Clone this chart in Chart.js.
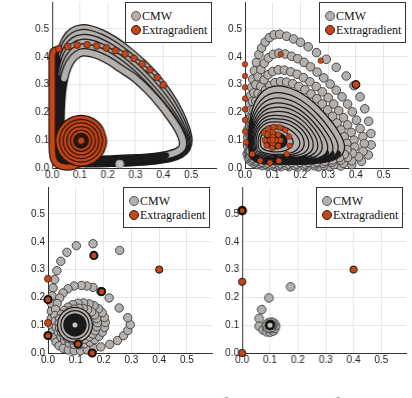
<!DOCTYPE html>
<html>
<head>
<meta charset="utf-8">
<title>CMW vs Extragradient</title>
<script src="https://cdn.jsdelivr.net/npm/chart.js@4.4.1/dist/chart.umd.min.js"></script>
<style>
  html, body { margin: 0; padding: 0; background: #fff; }
  body { position: relative; width: 412px; height: 398px; overflow: hidden; }
  canvas { position: absolute; }
  .legend { position: absolute; z-index: 2; width: 87px; height: 41px; box-sizing: border-box;
            border: 1px solid #333; background: #fff; color: #111;
            font-family: "Liberation Serif", serif; font-size: 12px; }
  .legend div { position: absolute; left: 16px; height: 14px; line-height: 14px; white-space: nowrap; }
  .legend span { position: absolute; left: -11px; top: 2px; width: 8px; height: 8px; border-radius: 50%; }
  .caption { position: absolute; left: 26px; top: 393.5px; white-space: nowrap; color: #999;
             font-family: "Liberation Serif", serif; font-size: 23px; line-height: 23px; word-spacing: 6px; }
</style>
</head>
<body>
<div class="caption">Figure 2: CMW and RRK predictions of the</div>
<script>
// shared axis setup
const tickLabels = ['0.0', '0.1', '0.2', '0.3', '0.4', '0.5'];
const xMax = 0.59, yMax = 0.597;

// ---- top left panel ----
const tlCmw1 = [[0.02,0.03],[0.014,0.08],[0.013,0.15],[0.014,0.22],[0.017,0.29],[0.022,0.36],[0.032,0.42],[0.05,0.465],[0.075,0.492],[0.105,0.502],[0.14,0.498],[0.18,0.483],[0.225,0.458],[0.275,0.421],[0.325,0.377],[0.375,0.325],[0.42,0.265],[0.456,0.203],[0.48,0.145],[0.49,0.102],[0.483,0.07],[0.462,0.05],[0.425,0.036],[0.365,0.027],[0.295,0.022],[0.225,0.019],[0.155,0.017],[0.095,0.018],[0.05,0.021],[0.027,0.026],[0.02,0.03]];
const tlCmw2 = [[0.023,0.032],[0.017,0.08],[0.016,0.15],[0.017,0.22],[0.02,0.29],[0.026,0.355],[0.036,0.41],[0.053,0.45],[0.077,0.475],[0.106,0.485],[0.14,0.481],[0.178,0.467],[0.221,0.443],[0.269,0.408],[0.318,0.365],[0.367,0.314],[0.412,0.257],[0.449,0.197],[0.474,0.142],[0.486,0.101],[0.48,0.07],[0.459,0.051],[0.422,0.038],[0.362,0.029],[0.292,0.024],[0.222,0.021],[0.153,0.02],[0.094,0.021],[0.051,0.024],[0.029,0.028],[0.023,0.032]];
const tlCmw3 = [[0.026,0.034],[0.02,0.08],[0.019,0.15],[0.02,0.22],[0.023,0.285],[0.03,0.345],[0.041,0.397],[0.057,0.435],[0.08,0.458],[0.107,0.467],[0.14,0.464],[0.176,0.451],[0.217,0.428],[0.263,0.395],[0.311,0.353],[0.359,0.303],[0.404,0.248],[0.442,0.19],[0.468,0.138],[0.482,0.1],[0.477,0.071],[0.456,0.053],[0.419,0.04],[0.359,0.031],[0.289,0.026],[0.219,0.023],[0.151,0.022],[0.093,0.023],[0.052,0.026],[0.031,0.03],[0.026,0.034]];
const tlCmw4 = [[0.029,0.036],[0.023,0.08],[0.022,0.15],[0.023,0.215],[0.027,0.28],[0.034,0.337],[0.045,0.385],[0.061,0.42],[0.083,0.441],[0.108,0.45],[0.14,0.447],[0.174,0.435],[0.213,0.413],[0.257,0.382],[0.304,0.341],[0.351,0.292],[0.396,0.239],[0.435,0.184],[0.463,0.135],[0.478,0.099],[0.474,0.072],[0.453,0.055],[0.416,0.042],[0.356,0.033],[0.286,0.028],[0.216,0.025],[0.149,0.024],[0.092,0.025],[0.053,0.028],[0.034,0.032],[0.029,0.036]];
const tlCmw5 = [[0.032,0.038],[0.027,0.085],[0.026,0.15],[0.027,0.215],[0.031,0.275],[0.039,0.33],[0.05,0.373],[0.066,0.405],[0.087,0.425],[0.109,0.433],[0.139,0.43],[0.172,0.419],[0.21,0.399],[0.253,0.369],[0.299,0.33],[0.346,0.282],[0.391,0.23],[0.431,0.178],[0.46,0.131],[0.474,0.098],[0.471,0.073],[0.451,0.057],[0.413,0.044],[0.353,0.036],[0.283,0.031],[0.213,0.028],[0.147,0.027],[0.091,0.028],[0.054,0.031],[0.037,0.034],[0.032,0.038]];
const tlCmw6 = [[0.035,0.04],[0.03,0.09],[0.03,0.15],[0.031,0.21],[0.035,0.27],[0.043,0.322],[0.055,0.362],[0.071,0.39],[0.09,0.408],[0.11,0.416],[0.138,0.413],[0.17,0.403],[0.207,0.384],[0.249,0.356],[0.295,0.325],[0.342,0.282],[0.387,0.232],[0.428,0.178],[0.457,0.132],[0.47,0.097],[0.468,0.074],[0.449,0.058],[0.41,0.046],[0.35,0.038],[0.28,0.034],[0.21,0.031],[0.145,0.03],[0.09,0.031],[0.055,0.034],[0.04,0.037],[0.035,0.04]];
const tlCmwStart = [[0.243,0.014]];
const tlEgEdge = [[0.024,0.428],[0.005,0.42],[0.0,0.39],[0.0,0.33],[0.0,0.26],[0.0,0.19],[0.0,0.12],[0.001,0.06],[0.006,0.03],[0.02,0.012],[0.045,0.004],[0.075,0.006],[0.104,0.018]];
const tlEgRing1 = [[0.184,0.098],[0.173,0.138],[0.144,0.167],[0.104,0.178],[0.064,0.167],[0.035,0.138],[0.024,0.098],[0.035,0.058],[0.064,0.029],[0.104,0.018],[0.144,0.029],[0.173,0.058],[0.184,0.098],[0.173,0.138]];
const tlEgRing2 = [[0.17,0.098],[0.161,0.131],[0.137,0.155],[0.104,0.164],[0.071,0.155],[0.047,0.131],[0.038,0.098],[0.047,0.065],[0.071,0.041],[0.104,0.032],[0.137,0.041],[0.161,0.065],[0.17,0.098],[0.161,0.131]];
const tlEgRing3 = [[0.157,0.098],[0.15,0.125],[0.131,0.144],[0.104,0.151],[0.077,0.144],[0.058,0.125],[0.051,0.098],[0.058,0.071],[0.077,0.052],[0.104,0.045],[0.131,0.052],[0.15,0.071],[0.157,0.098],[0.15,0.125]];
const tlEgRing4 = [[0.144,0.098],[0.139,0.118],[0.124,0.133],[0.104,0.138],[0.084,0.133],[0.069,0.118],[0.064,0.098],[0.069,0.078],[0.084,0.063],[0.104,0.058],[0.124,0.063],[0.139,0.078],[0.144,0.098],[0.139,0.118]];
const tlEgRing5 = [[0.131,0.098],[0.127,0.112],[0.118,0.121],[0.104,0.125],[0.09,0.121],[0.081,0.112],[0.077,0.098],[0.081,0.084],[0.09,0.075],[0.104,0.071],[0.118,0.075],[0.127,0.084],[0.131,0.098],[0.127,0.112]];
const tlEgRing6 = [[0.119,0.098],[0.117,0.106],[0.111,0.111],[0.104,0.113],[0.097,0.111],[0.091,0.106],[0.089,0.098],[0.091,0.09],[0.097,0.085],[0.104,0.083],[0.111,0.085],[0.117,0.09],[0.119,0.098],[0.117,0.106]];
const tlEgTop = [[0.4,0.299],[0.378,0.326],[0.351,0.353],[0.324,0.374],[0.294,0.394],[0.262,0.41],[0.228,0.422],[0.195,0.432],[0.16,0.439],[0.126,0.443],[0.09,0.442],[0.056,0.437],[0.024,0.428]];
const tlEgCentre = [[0.104,0.098]];

// ---- top right panel ----
const trCmwA = [[0.008,0.05],[0.009,0.08],[0.01,0.11],[0.011,0.14],[0.013,0.17],[0.015,0.2],[0.017,0.23],[0.02,0.26],[0.024,0.29],[0.028,0.32],[0.034,0.35],[0.041,0.38],[0.05,0.408],[0.06,0.432],[0.073,0.453],[0.088,0.469],[0.105,0.479],[0.125,0.481],[0.15,0.474],[0.175,0.464],[0.2,0.452],[0.228,0.436],[0.258,0.415],[0.293,0.391],[0.329,0.362],[0.365,0.331],[0.393,0.296],[0.415,0.256],[0.432,0.213],[0.446,0.168],[0.454,0.124],[0.455,0.083],[0.445,0.047],[0.42,0.024],[0.385,0.012],[0.345,0.007],[0.305,0.005],[0.265,0.004],[0.225,0.004],[0.19,0.004],[0.158,0.005],[0.13,0.005],[0.105,0.006],[0.082,0.007],[0.062,0.009],[0.045,0.012],[0.031,0.017],[0.02,0.025],[0.012,0.036]];
const trCmwB = [[0.012,0.06],[0.013,0.09],[0.015,0.12],[0.017,0.15],[0.02,0.18],[0.023,0.21],[0.027,0.24],[0.032,0.27],[0.039,0.3],[0.047,0.328],[0.057,0.354],[0.069,0.377],[0.084,0.396],[0.102,0.409],[0.122,0.413],[0.145,0.41],[0.168,0.402],[0.19,0.393],[0.213,0.38],[0.236,0.364],[0.26,0.345],[0.284,0.324],[0.307,0.302],[0.329,0.28],[0.35,0.256],[0.37,0.23],[0.387,0.202],[0.402,0.172],[0.415,0.142],[0.425,0.113],[0.43,0.087],[0.426,0.06],[0.41,0.04],[0.385,0.026],[0.355,0.017],[0.32,0.012],[0.285,0.009],[0.25,0.008],[0.215,0.008],[0.18,0.008],[0.15,0.009],[0.122,0.01],[0.097,0.011],[0.075,0.013],[0.055,0.016],[0.039,0.021],[0.026,0.029],[0.017,0.04]];
const trCmwC = [[0.016,0.06],[0.018,0.09],[0.02,0.12],[0.023,0.15],[0.027,0.18],[0.032,0.21],[0.039,0.24],[0.047,0.268],[0.057,0.294],[0.069,0.317],[0.083,0.335],[0.1,0.347],[0.12,0.353],[0.142,0.352],[0.165,0.346],[0.188,0.337],[0.211,0.325],[0.234,0.31],[0.257,0.293],[0.279,0.274],[0.3,0.253],[0.32,0.23],[0.338,0.206],[0.355,0.181],[0.37,0.155],[0.383,0.128],[0.393,0.1],[0.396,0.075],[0.388,0.053],[0.37,0.038],[0.345,0.028],[0.315,0.021],[0.283,0.017],[0.25,0.015],[0.218,0.014],[0.186,0.014],[0.156,0.014],[0.128,0.015],[0.103,0.016],[0.08,0.018],[0.06,0.021],[0.043,0.026],[0.03,0.034],[0.021,0.045]];
const trCmwD = [[0.02,0.06],[0.022,0.09],[0.025,0.12],[0.029,0.15],[0.034,0.18],[0.041,0.208],[0.05,0.235],[0.061,0.259],[0.074,0.28],[0.09,0.296],[0.108,0.307],[0.128,0.311],[0.15,0.309],[0.172,0.303],[0.194,0.293],[0.216,0.281],[0.238,0.266],[0.259,0.249],[0.279,0.23],[0.298,0.209],[0.316,0.186],[0.332,0.162],[0.346,0.137],[0.358,0.112],[0.367,0.088],[0.368,0.066],[0.358,0.049],[0.34,0.037],[0.316,0.029],[0.288,0.024],[0.258,0.021],[0.228,0.02],[0.198,0.02],[0.168,0.02],[0.14,0.021],[0.114,0.022],[0.09,0.024],[0.069,0.027],[0.051,0.031],[0.037,0.038],[0.027,0.047]];
const trCmwE = [[0.03,0.045],[0.025,0.09],[0.027,0.14],[0.035,0.19],[0.05,0.235],[0.075,0.268],[0.105,0.281],[0.14,0.28],[0.18,0.266],[0.225,0.238],[0.27,0.196],[0.31,0.148],[0.337,0.105],[0.346,0.075],[0.335,0.052],[0.3,0.036],[0.24,0.028],[0.17,0.026],[0.1,0.027],[0.055,0.031],[0.03,0.045]];
const trCmwF = [[0.033,0.048],[0.028,0.09],[0.03,0.135],[0.038,0.18],[0.054,0.218],[0.078,0.245],[0.107,0.257],[0.14,0.256],[0.177,0.243],[0.218,0.216],[0.258,0.178],[0.293,0.135],[0.316,0.098],[0.323,0.072],[0.312,0.053],[0.28,0.039],[0.225,0.031],[0.16,0.029],[0.1,0.03],[0.058,0.034],[0.033,0.048]];
const trCmwG = [[0.036,0.05],[0.031,0.09],[0.033,0.13],[0.041,0.17],[0.057,0.205],[0.08,0.228],[0.108,0.238],[0.14,0.237],[0.175,0.225],[0.212,0.2],[0.248,0.165],[0.279,0.126],[0.299,0.093],[0.304,0.07],[0.293,0.054],[0.263,0.042],[0.212,0.035],[0.155,0.032],[0.1,0.033],[0.061,0.037],[0.036,0.05]];
const trCmwH = [[0.039,0.053],[0.034,0.09],[0.036,0.127],[0.044,0.162],[0.06,0.192],[0.082,0.212],[0.109,0.22],[0.14,0.219],[0.173,0.208],[0.207,0.186],[0.239,0.154],[0.266,0.119],[0.282,0.09],[0.285,0.069],[0.274,0.055],[0.247,0.045],[0.2,0.038],[0.15,0.035],[0.1,0.036],[0.064,0.04],[0.039,0.053]];
const trCmwI = [[0.042,0.056],[0.037,0.09],[0.039,0.124],[0.047,0.155],[0.063,0.182],[0.084,0.199],[0.11,0.205],[0.14,0.204],[0.171,0.194],[0.202,0.174],[0.231,0.145],[0.253,0.114],[0.264,0.088],[0.265,0.07],[0.255,0.057],[0.231,0.048],[0.19,0.042],[0.145,0.039],[0.1,0.04],[0.067,0.044],[0.042,0.056]];
const trCmwJ = [[0.045,0.059],[0.04,0.09],[0.042,0.121],[0.05,0.149],[0.066,0.173],[0.086,0.186],[0.111,0.19],[0.14,0.189],[0.168,0.18],[0.197,0.162],[0.223,0.136],[0.241,0.109],[0.249,0.087],[0.248,0.071],[0.238,0.06],[0.216,0.051],[0.18,0.046],[0.14,0.043],[0.1,0.044],[0.07,0.048],[0.045,0.059]];
const trCmwK = [[0.048,0.062],[0.044,0.09],[0.046,0.118],[0.054,0.143],[0.069,0.163],[0.088,0.174],[0.112,0.176],[0.139,0.174],[0.165,0.166],[0.191,0.15],[0.214,0.127],[0.228,0.104],[0.233,0.085],[0.231,0.072],[0.221,0.062],[0.201,0.055],[0.17,0.05],[0.135,0.047],[0.1,0.048],[0.072,0.052],[0.048,0.062]];
const trCmwL = [[0.052,0.066],[0.048,0.09],[0.05,0.115],[0.058,0.137],[0.072,0.154],[0.09,0.163],[0.113,0.164],[0.138,0.162],[0.162,0.154],[0.185,0.139],[0.204,0.119],[0.215,0.099],[0.217,0.083],[0.213,0.072],[0.203,0.064],[0.185,0.058],[0.158,0.054],[0.128,0.052],[0.1,0.053],[0.075,0.056],[0.052,0.066]];
const trCmwM = [[0.056,0.07],[0.053,0.09],[0.055,0.112],[0.062,0.131],[0.075,0.145],[0.093,0.152],[0.114,0.153],[0.137,0.15],[0.159,0.142],[0.179,0.128],[0.194,0.111],[0.2,0.094],[0.199,0.08],[0.19,0.07],[0.175,0.063],[0.152,0.059],[0.125,0.057],[0.1,0.058],[0.078,0.061],[0.056,0.07]];
const trCmwN = [[0.062,0.075],[0.06,0.095],[0.064,0.115],[0.076,0.131],[0.095,0.14],[0.118,0.14],[0.14,0.134],[0.162,0.122],[0.178,0.106],[0.185,0.09],[0.18,0.077],[0.165,0.068],[0.14,0.063],[0.113,0.062],[0.088,0.064],[0.07,0.068],[0.062,0.075]];
const trCmwO = [[0.07,0.082],[0.068,0.1],[0.074,0.116],[0.09,0.126],[0.11,0.128],[0.132,0.122],[0.15,0.11],[0.16,0.095],[0.155,0.082],[0.138,0.074],[0.115,0.071],[0.092,0.073],[0.077,0.077],[0.07,0.082]];
const trCmwP = [[0.082,0.09],[0.082,0.104],[0.092,0.114],[0.11,0.116],[0.128,0.11],[0.138,0.098],[0.132,0.087],[0.115,0.082],[0.096,0.083],[0.082,0.09]];
const trEgStart = [[0.4,0.3]];
const trEg = [[0.273,0.386],[0.129,0.409],[0.0,0.373],[0.0,0.331],[0.0,0.29],[0.0,0.25],[0.0,0.211],[0.0,0.173],[0.0,0.131],[0.003,0.092],[0.026,0.05],[0.055,0.026],[0.09,0.019],[0.122,0.026],[0.151,0.05],[0.161,0.08],[0.158,0.113],[0.145,0.136],[0.125,0.146],[0.103,0.147],[0.083,0.141],[0.068,0.126],[0.071,0.1],[0.078,0.081],[0.098,0.072],[0.12,0.079],[0.128,0.1],[0.12,0.12],[0.1,0.128],[0.081,0.12],[0.09,0.1],[0.1,0.089],[0.111,0.1],[0.1,0.111],[0.1,0.1]];

// ---- bottom left panel ----
const blCmw = [[0.258,0.369],[0.162,0.393],[0.102,0.386],[0.068,0.362],[0.046,0.33],[0.032,0.296],[0.024,0.264],[0.018,0.234],[0.015,0.205],[0.013,0.177],[0.012,0.15],[0.012,0.124],[0.013,0.099],[0.016,0.076],[0.021,0.056],[0.029,0.039],[0.04,0.026],[0.055,0.017],[0.073,0.011],[0.094,0.008],[0.117,0.008],[0.141,0.011],[0.165,0.016],[0.19,0.022],[0.222,0.031],[0.25,0.045],[0.272,0.062],[0.287,0.081],[0.296,0.102],[0.287,0.127],[0.256,0.162],[0.22,0.198],[0.19,0.221],[0.162,0.236],[0.14,0.241],[0.12,0.243],[0.094,0.241],[0.072,0.231],[0.054,0.216],[0.042,0.198],[0.033,0.178],[0.027,0.157],[0.025,0.135],[0.026,0.114],[0.03,0.093],[0.037,0.074],[0.047,0.058],[0.06,0.045],[0.076,0.036],[0.094,0.031],[0.113,0.03],[0.132,0.033],[0.151,0.039],[0.168,0.048],[0.183,0.06],[0.195,0.075],[0.203,0.092],[0.206,0.11],[0.203,0.128],[0.195,0.145],[0.182,0.159],[0.166,0.17],[0.148,0.177],[0.128,0.18],[0.108,0.179],[0.089,0.174],[0.072,0.165],[0.058,0.153],[0.048,0.139],[0.042,0.123],[0.04,0.106],[0.042,0.09],[0.048,0.075],[0.058,0.062],[0.071,0.053],[0.086,0.047],[0.102,0.045],[0.118,0.046],[0.134,0.05],[0.149,0.058],[0.161,0.068],[0.17,0.08],[0.176,0.094],[0.178,0.109],[0.175,0.124],[0.168,0.137],[0.157,0.148],[0.143,0.156],[0.127,0.16],[0.111,0.161],[0.095,0.158],[0.081,0.152],[0.069,0.143],[0.061,0.131],[0.056,0.117],[0.056,0.103],[0.059,0.089]];
const blRing1 = [[0.147,0.101],[0.14,0.126],[0.122,0.144],[0.097,0.151],[0.072,0.144],[0.054,0.126],[0.047,0.101],[0.054,0.076],[0.072,0.058],[0.097,0.051],[0.122,0.058],[0.14,0.076],[0.147,0.101],[0.14,0.126]];
const blRing2 = [[0.135,0.101],[0.13,0.12],[0.116,0.134],[0.097,0.139],[0.078,0.134],[0.064,0.12],[0.059,0.101],[0.064,0.082],[0.078,0.068],[0.097,0.063],[0.116,0.068],[0.13,0.082],[0.135,0.101],[0.13,0.12]];
const blRing3 = [[0.124,0.101],[0.12,0.115],[0.11,0.124],[0.097,0.128],[0.084,0.124],[0.074,0.115],[0.07,0.101],[0.074,0.087],[0.084,0.078],[0.097,0.074],[0.11,0.078],[0.12,0.087],[0.124,0.101],[0.12,0.115]];
const blRing4 = [[0.113,0.101],[0.111,0.109],[0.105,0.115],[0.097,0.117],[0.089,0.115],[0.083,0.109],[0.081,0.101],[0.083,0.093],[0.089,0.087],[0.097,0.085],[0.105,0.087],[0.111,0.093],[0.113,0.101],[0.111,0.109]];
const blCmwEnd = [[0.097,0.101]];
const blEg = [[0.4,0.3],[0.165,0.351],[0.193,0.221],[0.0,0.267],[0.0,0.192],[0.0,0.108],[0.0,0.063],[0.108,0.032],[0.159,0.0]];
const blEgEdgeWidth = [1, 2, 2, 0.6, 2, 0.6, 2, 2, 2];

// ---- bottom right panel ----
const brCmw = [[0.174,0.238],[0.096,0.198],[0.07,0.156],[0.061,0.124],[0.061,0.096],[0.075,0.083],[0.088,0.076],[0.1,0.075],[0.112,0.079],[0.118,0.088],[0.12,0.098],[0.115,0.107],[0.107,0.111],[0.097,0.11],[0.089,0.104],[0.087,0.096],[0.092,0.089],[0.1,0.088],[0.107,0.092],[0.108,0.1],[0.102,0.103]];
const brCmwEnd = [[0.1,0.1]];
const brEg = [[0.4,0.3],[0.0,0.512],[0.0,0.256],[0.0,0.0]];
const brEgEdgeWidth = [1, 2.4, 1, 1];

// colours
const cmwFill = '#b4b0ad', cmwEdge = '#3a3a3a', cmwDark = '#1a1a1a';
const egFill = '#c4461a', egEdge = '#3a1d0e', egDark = '#2c1408';

const xy = pts => pts.map(p => ({ x: p[0], y: p[1] }));

function dots(pts, fill, edge, r, bw) {
  return { data: xy(pts), showLine: false, pointRadius: r, pointBackgroundColor: fill,
           pointBorderColor: edge, pointBorderWidth: bw, clip: false };
}

// dense parts of a loop (left side, bottom) read as solid black in the picture
const dense = p => p[0] < 0.045 || p[1] < 0.055;

function band(pts, dark, light, wide, thin, shade) {
  const base = { showLine: true, pointRadius: 0, tension: 0.35, fill: false, clip: false,
                 borderCapStyle: 'round', borderJoinStyle: 'round' };
  const top = { ...base, data: xy(pts), borderColor: light, borderWidth: thin };
  if (shade) {
    top.segment = { borderColor: c => (dense(pts[c.p0DataIndex]) && dense(pts[c.p1DataIndex])) ? dark : light };
  }
  return [{ ...base, data: xy(pts), borderColor: dark, borderWidth: wide }, top];
}

// first entry is drawn at the bottom
function stack(list) {
  return list.map((d, i) => ({ ...d, order: list.length - i }));
}

function buildTL() {
  return stack([
    ...band(tlCmw1, cmwDark, cmwFill, 8.5, 6, true),
    ...band(tlCmw2, cmwDark, cmwFill, 8.5, 6, true),
    ...band(tlCmw3, cmwDark, cmwFill, 8.5, 6, true),
    ...band(tlCmw4, cmwDark, cmwFill, 8.5, 6, true),
    ...band(tlCmw5, cmwDark, cmwFill, 8.5, 6, true),
    ...band(tlCmw6, cmwDark, cmwFill, 8.5, 6, true),
    dots(tlCmwStart, '#c2c0be', '#9a9a9a', 4, 0.8),
    ...band(tlEgEdge, egDark, egFill, 7.5, 5, false),
    ...band(tlEgRing1, egDark, egFill, 7.5, 5, false),
    ...band(tlEgRing2, egDark, egFill, 7.5, 5, false),
    ...band(tlEgRing3, egDark, egFill, 7.5, 5, false),
    ...band(tlEgRing4, egDark, egFill, 7.5, 5, false),
    ...band(tlEgRing5, egDark, egFill, 7.5, 5, false),
    ...band(tlEgRing6, egDark, egDark, 7.5, 5, false),
    dots(tlEgTop, egFill, egEdge, 3.4, 0.8),
    dots(tlEgCentre, egFill, egEdge, 3.4, 0.8)
  ]);
}

function buildTR() {
  return stack([
    dots(trCmwA, cmwFill, cmwEdge, 4.3, 0.9),
    dots(trCmwB, cmwFill, cmwEdge, 4.3, 0.9),
    dots(trCmwC, cmwFill, cmwEdge, 4.3, 0.9),
    dots(trCmwD, cmwFill, cmwEdge, 4.3, 0.9),
    ...band(trCmwE, cmwDark, cmwFill, 8.5, 6, true),
    ...band(trCmwF, cmwDark, cmwFill, 8.5, 6, true),
    ...band(trCmwG, cmwDark, cmwFill, 8.5, 6, true),
    ...band(trCmwH, cmwDark, cmwFill, 8.5, 6, true),
    ...band(trCmwI, cmwDark, cmwFill, 8.5, 6, true),
    ...band(trCmwJ, cmwDark, cmwFill, 8.5, 6, true),
    ...band(trCmwK, cmwDark, cmwFill, 8.5, 6, true),
    ...band(trCmwL, cmwDark, cmwFill, 8.5, 6, true),
    ...band(trCmwM, cmwDark, cmwFill, 8.5, 6, true),
    ...band(trCmwN, cmwDark, cmwFill, 8.5, 6, true),
    ...band(trCmwO, cmwDark, cmwFill, 8.5, 6, false),
    ...band(trCmwP, cmwDark, cmwDark, 8.5, 6, false),
    dots(trEg, egFill, egEdge, 2.8, 0.5),
    dots(trEgStart, egFill, egDark, 3.8, 1.4)
  ]);
}

function buildBL() {
  return stack([
    dots(blCmw, cmwFill, cmwEdge, 4.2, 0.9),
    ...band(blRing1, cmwDark, cmwFill, 8.5, 6, false),
    ...band(blRing2, cmwDark, cmwFill, 8.5, 6, false),
    ...band(blRing3, cmwDark, cmwDark, 8.5, 6, false),
    ...band(blRing4, cmwDark, cmwDark, 8.5, 6, false),
    dots(blCmwEnd, '#c8c6c4', '#c8c6c4', 2.5, 0),
    { ...dots(blEg, egFill, '#111', 3.6, 1), pointBorderWidth: blEgEdgeWidth }
  ]);
}

function buildBR() {
  return stack([
    dots(brCmw, cmwFill, cmwEdge, 4.3, 0.9),
    dots(brCmwEnd, '#c8c6c4', '#111', 3.8, 2.6),
    { ...dots(brEg, egFill, '#111', 3.6, 1), pointBorderWidth: brEgEdgeWidth }
  ]);
}

function options() {
  const tickFont = { family: 'Liberation Sans', size: 10 };
  const tickCb = (v, i) => tickLabels[i];
  return {
    responsive: false,
    animation: false,
    devicePixelRatio: 1,
    events: [],
    layout: { padding: 0 },
    plugins: { legend: { display: false }, tooltip: { enabled: false } },
    scales: {
      x: {
        type: 'linear', min: 0, max: xMax,
        afterFit: s => { s.height = 16; },
        ticks: { stepSize: 0.1, includeBounds: false, autoSkip: false, maxRotation: 0, padding: 1,
                 color: '#222', font: tickFont, callback: tickCb },
        grid: { color: '#e6e6e6', drawTicks: false },
        border: { color: '#333', width: 1 }
      },
      y: {
        type: 'linear', min: 0, max: yMax,
        afterFit: s => { s.width = 36; },
        ticks: { stepSize: 0.1, includeBounds: false, autoSkip: false, padding: 3,
                 color: '#222', font: tickFont, callback: tickCb },
        grid: { color: '#e6e6e6', drawTicks: false },
        border: { color: '#333', width: 1 }
      }
    }
  };
}

// place a panel so its plot area lands on the given page box
function drawPanel(box, build) {
  const cv = document.createElement('canvas');
  document.body.appendChild(cv);
  let w = box.w + 50, h = box.h + 30, chart, area;
  for (let pass = 0; pass < 2; pass++) {
    cv.width = w; cv.height = h;
    cv.style.width = w + 'px'; cv.style.height = h + 'px';
    chart = new Chart(cv, { type: 'scatter', data: { datasets: build() }, options: options() });
    area = chart.chartArea;
    if (pass === 0) {
      w += box.w - (area.right - area.left);
      h += box.h - (area.bottom - area.top);
      chart.destroy();
    }
  }
  cv.style.position = 'absolute';
  cv.style.left = Math.round(box.left - area.left) + 'px';
  cv.style.top = Math.round(box.top - area.top) + 'px';
}

function legend(left, top) {
  const d = document.createElement('div');
  d.className = 'legend';
  d.style.left = left + 'px';
  d.style.top = top + 'px';
  d.innerHTML =
    '<div style="top:6px"><span style="background:' + cmwFill + ';border:1px solid #555"></span>CMW</div>' +
    '<div style="top:20px"><span style="background:' + egFill + ';border:1px solid ' + egEdge + '"></span>Extragradient</div>';
  document.body.appendChild(d);
}

drawPanel({ left: 52, top: 2, w: 164, h: 166 }, buildTL);
drawPanel({ left: 245, top: 2, w: 164, h: 166 }, buildTR);
drawPanel({ left: 48, top: 187, w: 164, h: 166 }, buildBL);
drawPanel({ left: 242, top: 187, w: 164, h: 166 }, buildBR);

legend(125, 2);
legend(319, 2);
legend(123, 187);
legend(316, 187);
</script>
</body>
</html>
